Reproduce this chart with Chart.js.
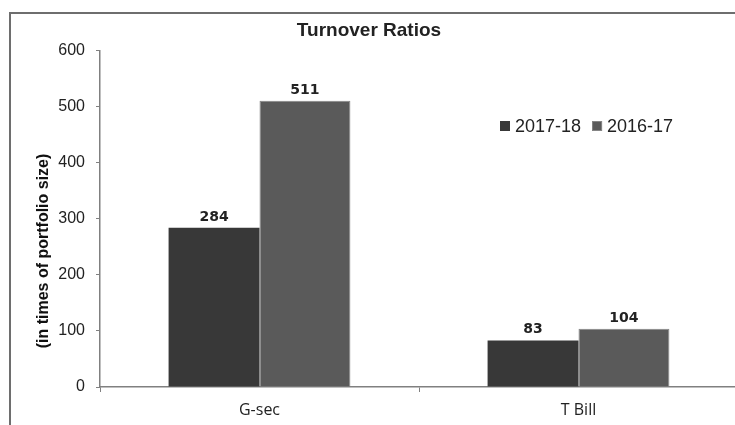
<!DOCTYPE html>
<html>
<head>
<meta charset="utf-8">
<script src="https://cdn.jsdelivr.net/npm/chart.js@4"></script>
<style>
    html, body { margin: 0; padding: 0; background: #fff; overflow: hidden; }
    #wrap { position: relative; width: 740px; height: 425px; }
</style>
</head>
<body>
<div id="wrap"><canvas id="turnoverChart" width="740" height="425"></canvas></div>
<script>
const categories = ["G-sec", "T Bill"];
const series2017 = [284, 83];
const series2016 = [511, 104];
const yTicks = [0, 100, 200, 300, 400, 500, 600];
const yTitle = "(in times of portfolio size)";

// cornice esterna (solo lato sinistro e alto visibili)
const framePlugin = {
    id: "frame",
    beforeDraw(chart) {
        const ctx = chart.ctx;
        ctx.save();
        ctx.fillStyle = "#fff";
        ctx.fillRect(0, 0, chart.width, chart.height);
        ctx.strokeStyle = "#6e6e6e";
        ctx.lineWidth = 2;
        ctx.beginPath();
        ctx.moveTo(10, chart.height + 5);
        ctx.lineTo(10, 13);
        ctx.lineTo(chart.width + 5, 13);
        ctx.stroke();
        ctx.restore();
    }
};

// titolo asse y, spostato verso il basso come nell'originale
const yTitlePlugin = {
    id: "yTitle",
    afterDraw(chart) {
        const ctx = chart.ctx;
        ctx.save();
        ctx.translate(44, 251);
        ctx.rotate(-Math.PI / 2);
        ctx.font = "bold 16px 'Liberation Sans'";
        ctx.fillStyle = "#111";
        ctx.textAlign = "center";
        ctx.textBaseline = "middle";
        ctx.fillText(yTitle, 0, 0);
        ctx.restore();
    }
};

// etichette valori sopra le barre
const valueLabels = {
    id: "valueLabels",
    afterDatasetsDraw(chart) {
        const ctx = chart.ctx;
        ctx.save();
        ctx.font = "bold 14px 'DejaVu Sans'";
        ctx.fillStyle = "#222";
        ctx.textAlign = "center";
        ctx.textBaseline = "alphabetic";
        chart.data.datasets.forEach((ds, i) => {
            chart.getDatasetMeta(i).data.forEach((bar, j) => {
                ctx.fillText(ds.data[j], bar.x, bar.y - 7);
            });
        });
        ctx.restore();
    }
};

// legenda dentro l'area del grafico
const insideLegend = {
    id: "insideLegend",
    afterDraw(chart) {
        const ctx = chart.ctx;
        let x = 500;
        const y = 126;
        ctx.save();
        ctx.font = "18px 'Liberation Sans'";
        ctx.textBaseline = "middle";
        chart.data.datasets.forEach(ds => {
            ctx.fillStyle = ds.backgroundColor;
            ctx.fillRect(x, y - 5, 10, 10);
            if (ds.borderWidth) {
                ctx.strokeStyle = ds.borderColor;
                ctx.lineWidth = 1;
                ctx.strokeRect(x + 0.5, y - 4.5, 9, 9);
            }
            ctx.fillStyle = "#222";
            ctx.fillText(ds.label, x + 15, y + 1);
            x += 15 + ctx.measureText(ds.label).width + 11;
        });
        ctx.restore();
    }
};

const ctx = document.getElementById("turnoverChart").getContext("2d");

new Chart(ctx, {
    type: "bar",
    data: {
        labels: categories,
        datasets: [{
            label: "2017-18",
            data: series2017,
            backgroundColor: "#383838",
            borderWidth: 0
        }, {
            label: "2016-17",
            data: series2016,
            backgroundColor: "#5a5a5a",
            borderColor: "#858585",
            borderWidth: 1
        }]
    },
    options: {
        responsive: false,
        animation: false,
        categoryPercentage: 0.57,
        barPercentage: 1,
        layout: { padding: { left: 0, right: 2, top: 0, bottom: 0 } },
        plugins: {
            legend: { display: false },
            tooltip: { enabled: false },
            title: {
                display: true,
                text: "Turnover Ratios",
                color: "#222",
                font: { family: "'Liberation Sans'", size: 19, weight: "bold" },
                padding: { top: 19, bottom: 9 }
            }
        },
        scales: {
            x: {
                afterFit: scale => { scale.height = 38; },
                grid: {
                    drawOnChartArea: false,
                    drawTicks: true,
                    tickLength: 5,
                    color: "#808080"
                },
                border: { color: "#808080", width: 1.5 },
                ticks: {
                    color: "#222",
                    padding: 9,
                    font: { family: "'Open Sans'", size: 16 }
                }
            },
            y: {
                min: 0,
                max: 600,
                afterBuildTicks: scale => {
                    scale.ticks = yTicks.map(v => ({ value: v }));
                },
                afterFit: scale => { scale.width = 100; },
                grid: {
                    drawOnChartArea: false,
                    drawTicks: true,
                    tickLength: 4,
                    color: "#808080"
                },
                border: { color: "#808080", width: 1.5 },
                ticks: {
                    color: "#222",
                    padding: 11,
                    font: { family: "'Liberation Sans'", size: 16 }
                }
            }
        }
    },
    plugins: [framePlugin, yTitlePlugin, valueLabels, insideLegend]
});
</script>
</body>
</html>
